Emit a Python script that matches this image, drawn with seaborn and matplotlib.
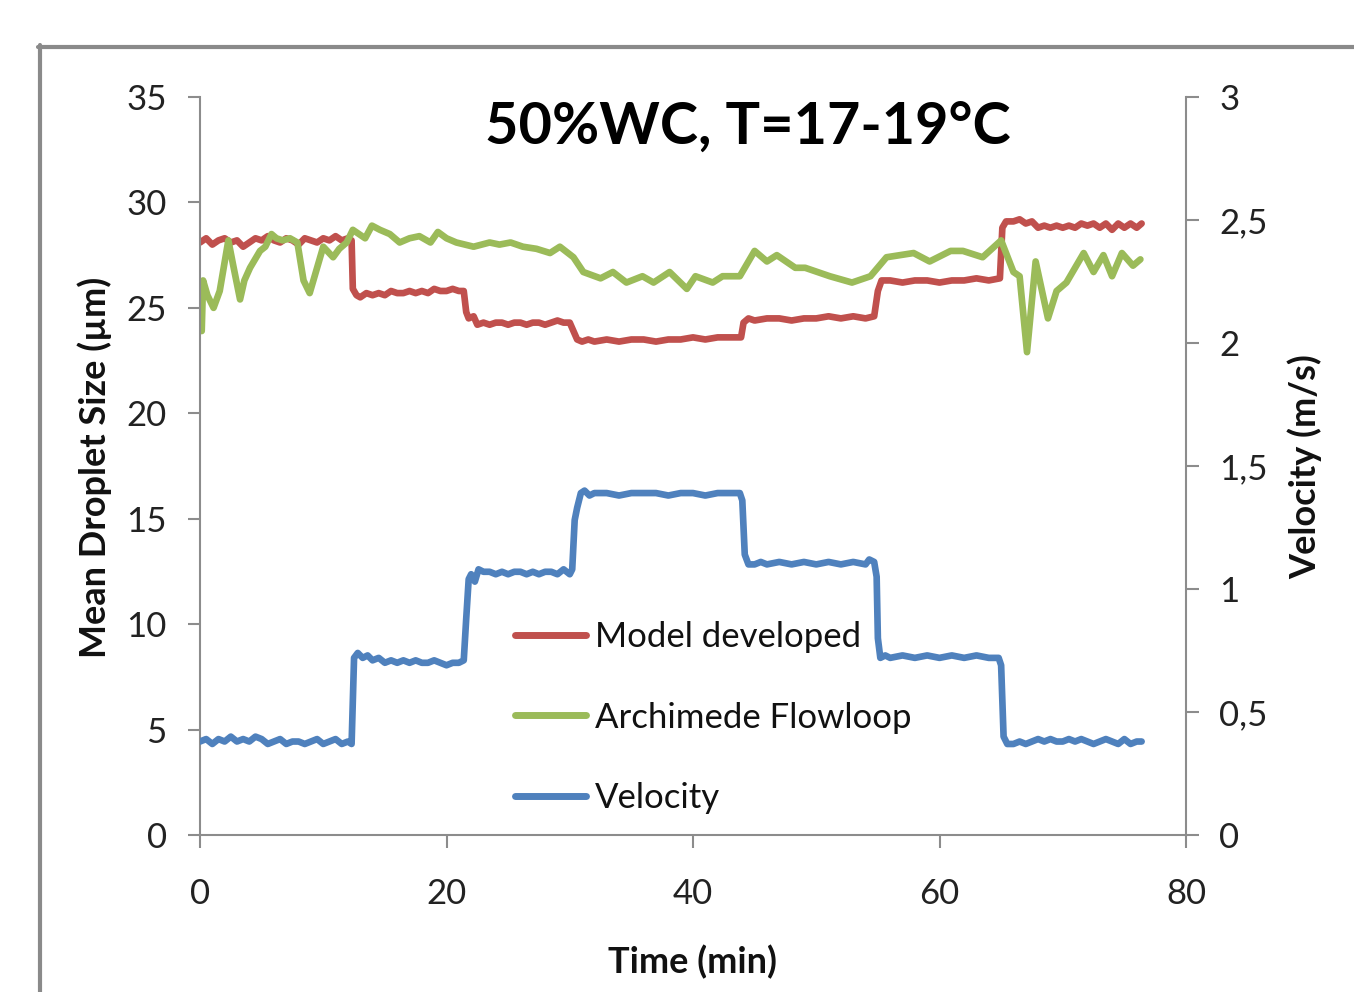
import matplotlib
matplotlib.use("Agg")
import matplotlib.pyplot as plt
import seaborn as sns
from matplotlib.lines import Line2D

# ---------------- data ----------------
t_model = [0.0, 0.5, 1.0, 1.5, 2.0, 2.5, 3.0, 3.5, 4.0, 4.5, 5.0, 5.5, 6.0, 6.5, 7.0, 7.5, 8.0, 8.5, 9.0, 9.5,
           10.0, 10.5, 11.0, 11.5, 12.0, 12.3, 12.4, 12.7, 13.0, 13.5, 14.0, 14.5, 15.0, 15.5, 16.0, 16.5, 17.0,
           17.5, 18.0, 18.5, 19.0, 19.5, 20.0, 20.5, 21.0, 21.4, 21.6, 21.8, 22.2, 22.5, 23.0, 23.5, 24.0, 24.5,
           25.0, 25.5, 26.0, 26.5, 27.0, 27.5, 28.0, 28.5, 29.0, 29.5, 30.0, 30.3, 30.6, 31.0, 31.5, 32.0, 33.0,
           34.0, 35.0, 36.0, 37.0, 38.0, 39.0, 40.0, 41.0, 42.0, 43.0, 43.9, 44.1, 44.5, 45.0, 46.0, 47.0, 48.0,
           49.0, 50.0, 51.0, 52.0, 53.0, 54.0, 54.7, 55.0, 55.3, 56.0, 57.0, 58.0, 59.0, 60.0, 61.0, 62.0, 63.0,
           64.0, 64.9, 65.1, 65.4, 66.0, 66.5, 67.0, 67.5, 68.0, 68.5, 69.0, 69.5, 70.0, 70.5, 71.0, 71.5, 72.0,
           72.5, 73.0, 73.5, 74.0, 74.5, 75.0, 75.5, 76.0, 76.4]
model = [28.1, 28.3, 28.0, 28.2, 28.3, 28.1, 28.2, 27.9, 28.1, 28.3, 28.2, 28.4, 28.2, 28.1, 28.3, 28.2, 28.0, 28.3,
         28.2, 28.1, 28.3, 28.2, 28.4, 28.2, 28.3, 28.2, 25.9, 25.6, 25.5, 25.7, 25.6, 25.7, 25.6, 25.8, 25.7, 25.7,
         25.8, 25.7, 25.8, 25.7, 25.9, 25.8, 25.8, 25.9, 25.8, 25.8, 24.8, 24.5, 24.6, 24.2, 24.3, 24.2, 24.3, 24.3,
         24.2, 24.3, 24.3, 24.2, 24.3, 24.3, 24.2, 24.3, 24.4, 24.3, 24.3, 23.9, 23.5, 23.4, 23.5, 23.4, 23.5, 23.4,
         23.5, 23.5, 23.4, 23.5, 23.5, 23.6, 23.5, 23.6, 23.6, 23.6, 24.3, 24.5, 24.4, 24.5, 24.5, 24.4, 24.5, 24.5,
         24.6, 24.5, 24.6, 24.5, 24.6, 25.8, 26.3, 26.3, 26.2, 26.3, 26.3, 26.2, 26.3, 26.3, 26.4, 26.3, 26.4, 28.8,
         29.1, 29.1, 29.2, 29.0, 29.1, 28.8, 28.9, 28.8, 28.9, 28.8, 28.9, 28.8, 29.0, 28.9, 29.0, 28.8, 29.0, 28.7,
         29.0, 28.8, 29.0, 28.8, 29.0]

t_flowloop = [0.0, 0.14, 0.25, 0.6, 1.1, 1.6, 2.3, 2.7, 3.25, 3.6, 4.06, 4.87, 5.3, 5.8, 6.2, 6.7, 7.3, 7.9, 8.4,
              8.9, 9.5, 10.0, 10.8, 11.3, 11.9, 12.4, 12.9, 13.4, 13.95, 14.6, 15.4, 16.2, 17.0, 17.8, 18.7, 19.3,
              20.0, 20.8, 22.2, 23.5, 24.3, 25.2, 26.2, 27.3, 28.4, 29.2, 30.3, 31.1, 32.5, 33.5, 34.6, 35.9,
              36.8, 38.1, 39.5, 40.2, 41.6, 42.4, 43.8, 45.0, 46.0, 46.8, 48.3, 49.1, 51.1, 52.9, 54.4, 55.7,
              57.9, 59.2, 60.9, 61.9, 63.5, 65.0, 66.0, 66.5, 67.1, 67.8, 68.8, 69.5, 70.3, 71.7, 72.5, 73.3,
              74.0, 74.8, 75.7, 76.3]
flowloop = [24.6, 23.9, 26.3, 25.6, 25.0, 25.8, 28.2, 27.0, 25.4, 26.3, 26.9, 27.7, 27.9, 28.5, 28.3, 28.2, 28.3,
            28.1, 26.3, 25.7, 26.9, 27.9, 27.4, 27.8, 28.1, 28.7, 28.5, 28.3, 28.9, 28.7, 28.5, 28.1, 28.3, 28.4,
            28.1, 28.6, 28.3, 28.1, 27.9, 28.1, 28.0, 28.1, 27.9, 27.8, 27.6, 27.9, 27.4, 26.7, 26.4, 26.7, 26.2,
            26.5, 26.2, 26.7, 25.9, 26.5, 26.2, 26.5, 26.5, 27.7, 27.2, 27.5, 26.9, 26.9, 26.5, 26.2, 26.5, 27.4,
            27.6, 27.2, 27.7, 27.7, 27.4, 28.2, 26.7, 26.5, 22.9, 27.2, 24.5, 25.8, 26.2, 27.6, 26.7, 27.5, 26.5,
            27.6, 27.0, 27.3]

t_velocity = [0.0, 0.5, 1.0, 1.5, 2.0, 2.5, 3.0, 3.5, 4.0, 4.5, 5.0, 5.5, 6.0, 6.5, 7.0, 7.5, 8.0, 8.5, 9.0, 9.5,
              10.0, 10.5, 11.0, 11.5, 12.0, 12.3, 12.5, 12.8, 13.2, 13.6, 14.0, 14.5, 15.0, 15.5, 16.0, 16.5,
              17.0, 17.5, 18.0, 18.5, 19.0, 19.5, 20.0, 20.5, 21.0, 21.4, 21.6, 21.8, 22.0, 22.3, 22.6, 23.0,
              23.5, 24.0, 24.5, 25.0, 25.5, 26.0, 26.5, 27.0, 27.5, 28.0, 28.5, 29.0, 29.5, 30.0, 30.2, 30.4,
              30.6, 30.9, 31.2, 31.6, 32.0, 33.0, 34.0, 35.0, 36.0, 37.0, 38.0, 39.0, 40.0, 41.0, 42.0, 43.0,
              43.8, 44.0, 44.2, 44.5, 45.0, 45.5, 46.0, 47.0, 48.0, 49.0, 50.0, 51.0, 52.0, 53.0, 54.0, 54.3,
              54.7, 54.9, 55.0, 55.2, 55.6, 56.0, 57.0, 58.0, 59.0, 60.0, 61.0, 62.0, 63.0, 64.0, 64.8, 65.0,
              65.2, 65.5, 66.0, 66.5, 67.0, 67.5, 68.0, 68.5, 69.0, 69.5, 70.0, 70.5, 71.0, 71.5, 72.0, 72.5,
              73.0, 73.5, 74.0, 74.5, 75.0, 75.5, 76.0, 76.4]
velocity = [0.38, 0.39, 0.37, 0.39, 0.38, 0.40, 0.38, 0.39, 0.38, 0.40, 0.39, 0.37, 0.38, 0.39, 0.37, 0.38, 0.38,
            0.37, 0.38, 0.39, 0.37, 0.38, 0.39, 0.37, 0.38, 0.37, 0.72, 0.74, 0.72, 0.73, 0.71, 0.72, 0.70, 0.71,
            0.70, 0.71, 0.70, 0.71, 0.70, 0.70, 0.71, 0.70, 0.69, 0.70, 0.70, 0.71, 0.88, 1.04, 1.06, 1.03, 1.08,
            1.07, 1.07, 1.06, 1.07, 1.06, 1.07, 1.07, 1.06, 1.07, 1.06, 1.07, 1.07, 1.06, 1.08, 1.06, 1.08, 1.28,
            1.33, 1.39, 1.40, 1.38, 1.39, 1.39, 1.38, 1.39, 1.39, 1.39, 1.38, 1.39, 1.39, 1.38, 1.39, 1.39, 1.39,
            1.36, 1.14, 1.10, 1.10, 1.11, 1.10, 1.11, 1.10, 1.11, 1.10, 1.11, 1.10, 1.11, 1.10, 1.12, 1.11, 1.05,
            0.80, 0.72, 0.73, 0.72, 0.73, 0.72, 0.73, 0.72, 0.73, 0.72, 0.73, 0.72, 0.72, 0.69, 0.40, 0.37, 0.37,
            0.38, 0.37, 0.38, 0.39, 0.38, 0.39, 0.38, 0.38, 0.39, 0.38, 0.39, 0.38, 0.37, 0.38, 0.39, 0.38, 0.37,
            0.39, 0.37, 0.38, 0.38]

x_ticks = [0, 20, 40, 60, 80]
left_ticks = [0, 5, 10, 15, 20, 25, 30, 35]
right_ticks = [0, 0.5, 1, 1.5, 2, 2.5, 3]
right_tick_labels = ["0", "0,5", "1", "1,5", "2", "2,5", "3"]

title = "50%WC, T=17-19°C"
labels = ["Model developed", "Archimede Flowloop", "Velocity"]
c_red, c_green, c_blue = "#C0504D", "#9BBB59", "#4F81BD"

# ---------------- figure ----------------
sns.set_style("white")
plt.rcParams['font.family'] = ['Lato', 'DejaVu Sans']

W, H = 1354, 992
fig = plt.figure(figsize=(W / 100, H / 100), dpi=100)
ax = fig.add_axes([200 / W, 1 - 835 / H, (1186 - 200) / W, (835 - 97) / H])
ax2 = ax.twinx()

lw = 4.8
sns.lineplot(x=t_model, y=model, ax=ax, color=c_red, lw=lw, label=labels[0], legend=False)
sns.lineplot(x=t_flowloop, y=flowloop, ax=ax, color=c_green, lw=lw, label=labels[1], legend=False)
sns.lineplot(x=t_velocity, y=velocity, ax=ax2, color=c_blue, lw=lw, label=labels[2], legend=False)

gray = "#8C8C8C"
ax.set_xlim(0, 80)
ax.set_ylim(0, 35)
ax2.set_ylim(0, 3)
ax.set_xticks(x_ticks)
ax.set_yticks(left_ticks)
ax2.set_yticks(right_ticks)
ax2.set_yticklabels(right_tick_labels)

for a in (ax, ax2):
    a.set_facecolor("none")
    for s in a.spines.values():
        s.set_visible(False)
    a.grid(False)
ax.spines['left'].set_visible(True)
ax.spines['bottom'].set_visible(True)
ax2.spines['right'].set_visible(True)
for s in (ax.spines['left'], ax.spines['bottom'], ax2.spines['right']):
    s.set_color(gray)
    s.set_linewidth(1.5)

ax.tick_params(axis='both', direction='out', length=9, width=1.5, color=gray,
               labelsize=25, labelcolor="#222222")
ax.tick_params(axis='y', pad=15, left=True)
ax.tick_params(axis='x', pad=22, bottom=True)
ax2.tick_params(axis='y', direction='out', length=9, width=1.5, color=gray, right=True,
                labelsize=25, labelcolor="#222222", pad=15)

lab_kw = dict(fontsize=26, fontweight='bold', color="#111111")
ax.set_ylabel("Mean Droplet Size (µm)", **lab_kw)
ax.yaxis.set_label_coords((112 - 200) / 986, (835 - 467) / 738)
ax2.set_ylabel("Velocity (m/s)", rotation=90, **lab_kw)
ax2.yaxis.set_label_coords((1288 - 200) / 986, (835 - 467) / 738)
ax.set_xlabel("Time (min)", **lab_kw)
ax.xaxis.set_label_coords(0.499, (835 - 945) / 738)

fig.text(748 / W, 1 - 127 / H, title, fontsize=41.5, fontweight='bold', ha='center', va='center',
         color="#000000")

handles = [Line2D([], [], color=c, lw=5, solid_capstyle='round') for c in (c_red, c_green, c_blue)]
fig.legend(handles, labels, loc='upper left', bbox_to_anchor=(515 / W, 1 - 621 / H),
           frameon=False, fontsize=25, handlelength=2.05, handletextpad=0.25, labelspacing=1.4,
           borderpad=0, borderaxespad=0, labelcolor="#111111")

# outer frame
fig.add_artist(Line2D([40 / W, 40 / W], [0, 1 - 45 / H], transform=fig.transFigure, color="#8A8A8A", lw=3))
fig.add_artist(Line2D([38 / W, 1], [1 - 47 / H, 1 - 47 / H], transform=fig.transFigure, color="#8A8A8A", lw=3))

fig.savefig("out.png", dpi=100)
